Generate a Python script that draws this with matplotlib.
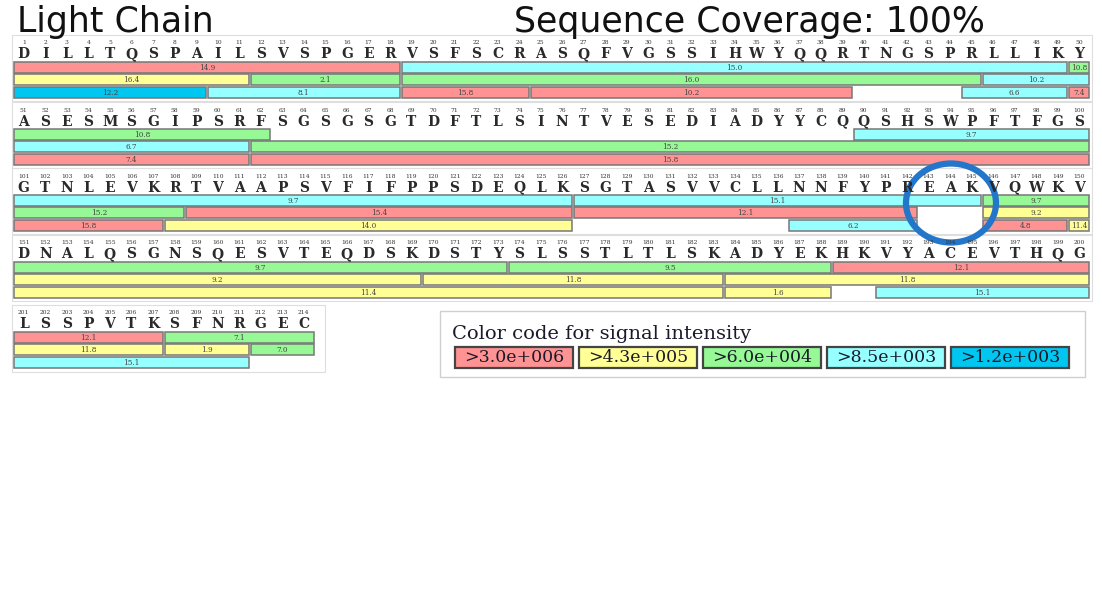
import matplotlib
matplotlib.use("Agg")
import matplotlib.pyplot as plt
from matplotlib.patches import Rectangle, Ellipse

# ---------------- data ----------------
sequence = ("DILLTQSPAILSVSPGERVSFSCRASQFVGSSIHWYQQRTNGSPRLLIKY"
            "ASESMSGIPSRFSGSGSGTDFTLSINTVESEDIADYYCQQSHSWPFTFGS"
            "GTNLEVKRTVAAPSVFIFPPSDEQLKSGTASVVCLLNNFYPREAKVQWKV"
            "DNALQSGNSQESVTEQDSKDSTYSLSSTLTLSKADYEKHKVYACEVTHQG"
            "LSSPVTKSFNRGEC")

title_left = "Light Chain"
title_right = "Sequence Coverage: 100%"

# peptides: start residue, end residue, label, intensity level, row
pep_start = [1, 19, 50, 90, 127, 146, 174, 189, 208,
             1, 12, 19, 46, 51, 62, 109, 127, 146, 170, 184, 208, 212,
             1, 10, 19, 25, 45, 50, 62, 108, 137, 146, 150, 184, 191]
pep_end = [18, 49, 62, 126, 145, 173, 188, 207, 214,
           11, 18, 45, 50, 61, 108, 126, 142, 169, 183, 207, 211, 214,
           9, 18, 24, 39, 49, 61, 107, 126, 142, 149, 183, 188, 211]
pep_label = ["14.9", "15.0", "10.8", "9.7", "15.1", "9.7", "9.5", "12.1", "7.1",
             "16.4", "2.1", "16.0", "10.2", "6.7", "15.2", "15.4", "12.1", "9.2", "11.8", "11.8", "1.9", "7.0",
             "12.2", "8.1", "15.8", "10.2", "6.6", "7.4", "15.8", "14.0", "6.2", "4.8", "11.4", "1.6", "15.1"]
pep_level = [0, 3, 2, 3, 3, 2, 2, 0, 2,
             1, 2, 2, 3, 3, 2, 0, 0, 1, 1, 1, 1, 2,
             4, 3, 0, 0, 3, 0, 0, 1, 3, 0, 1, 1, 3]
pep_row = [0] * 9 + [1] * 13 + [2] * 13

legend_title = "Color code for signal intensity"
level_labels = [">3.0e+006", ">4.3e+005", ">6.0e+004", ">8.5e+003", ">1.2e+003"]
level_colors = ["#ff9393", "#ffff96", "#96f996", "#96ffff", "#00c6f0"]

# ---------------- layout ----------------
W, H = 1102, 613
fig = plt.figure(figsize=(W / 100, H / 100), dpi=100)
ax = fig.add_axes([0, 0, 1, 1])
ax.set_xlim(0, W)
ax.set_ylim(H, 0)
ax.axis("off")

serif = ["DejaVu Serif"]
sans = ["DejaVu Sans"]

ax.text(17, 22, title_left, fontsize=25, family=sans, va="center", ha="left", color="#111")
ax.text(749, 22, title_right, fontsize=25, family=sans, va="center", ha="center", color="#111")

per_block = 50
n = len(sequence)
block_starts = list(range(1, n + 1, per_block))
block_num_y = [43, 110, 176, 243, 313]
x0 = 13.0
cw = 21.54
row_dy = 12.4
bar_h = 11

for bi, bs in enumerate(block_starts):
    be = min(bs + per_block - 1, n)
    ny = block_num_y[bi]
    # light frame
    fx1 = x0 + (be - bs + 1) * cw + 2
    if bi == len(block_starts) - 1:
        fx1 += 8
    ax.add_patch(Rectangle((12, ny - 8), fx1 - 12, 66 if bi < 4 else 67,
                           fill=False, edgecolor="#dedede", lw=0.8))
    for r in range(bs, be + 1):
        cx = x0 + (r - bs + 0.5) * cw
        ax.text(cx, ny, str(r), fontsize=4.3, family=serif, ha="center", va="center", color="#333")
        ax.text(cx, ny + 11.5, sequence[r - 1], fontsize=10, family=serif, weight="bold",
                ha="center", va="center", color="#2a2a2a")
    for s, e, lab, lv, row in zip(pep_start, pep_end, pep_label, pep_level, pep_row):
        ss, ee = max(s, bs), min(e, be)
        if ss > ee:
            continue
        xa = x0 + (ss - bs) * cw + 1
        xb = x0 + (ee - bs + 1) * cw - 1
        yc = ny + 24.5 + row * row_dy
        ax.add_patch(Rectangle((xa, yc - bar_h / 2), xb - xa, bar_h,
                               facecolor=level_colors[lv], edgecolor="#777777", lw=1.1))
        ax.text((xa + xb) / 2, yc + 0.3, lab, fontsize=5.2, family=serif,
                ha="center", va="center", color="#444")

# highlight circle
ax.add_patch(Ellipse((951, 203), 90, 79, fill=False, edgecolor="#2376c9", lw=4.5))

# legend
ax.add_patch(Rectangle((440, 311), 645, 66, fill=False, edgecolor="#cfcfcf", lw=1))
ax.text(452, 334, legend_title, fontsize=14, family=serif, ha="left", va="center", color="#1a1a2a")
lx = 455
for lab, col in zip(level_labels, level_colors):
    ax.add_patch(Rectangle((lx, 347), 118, 21, facecolor=col, edgecolor="#444", lw=1.6))
    ax.text(lx + 59, 357.5, lab, fontsize=12.5, family=serif, ha="center", va="center", color="#1a1a2a")
    lx += 124

fig.savefig("out.png", dpi=100)
